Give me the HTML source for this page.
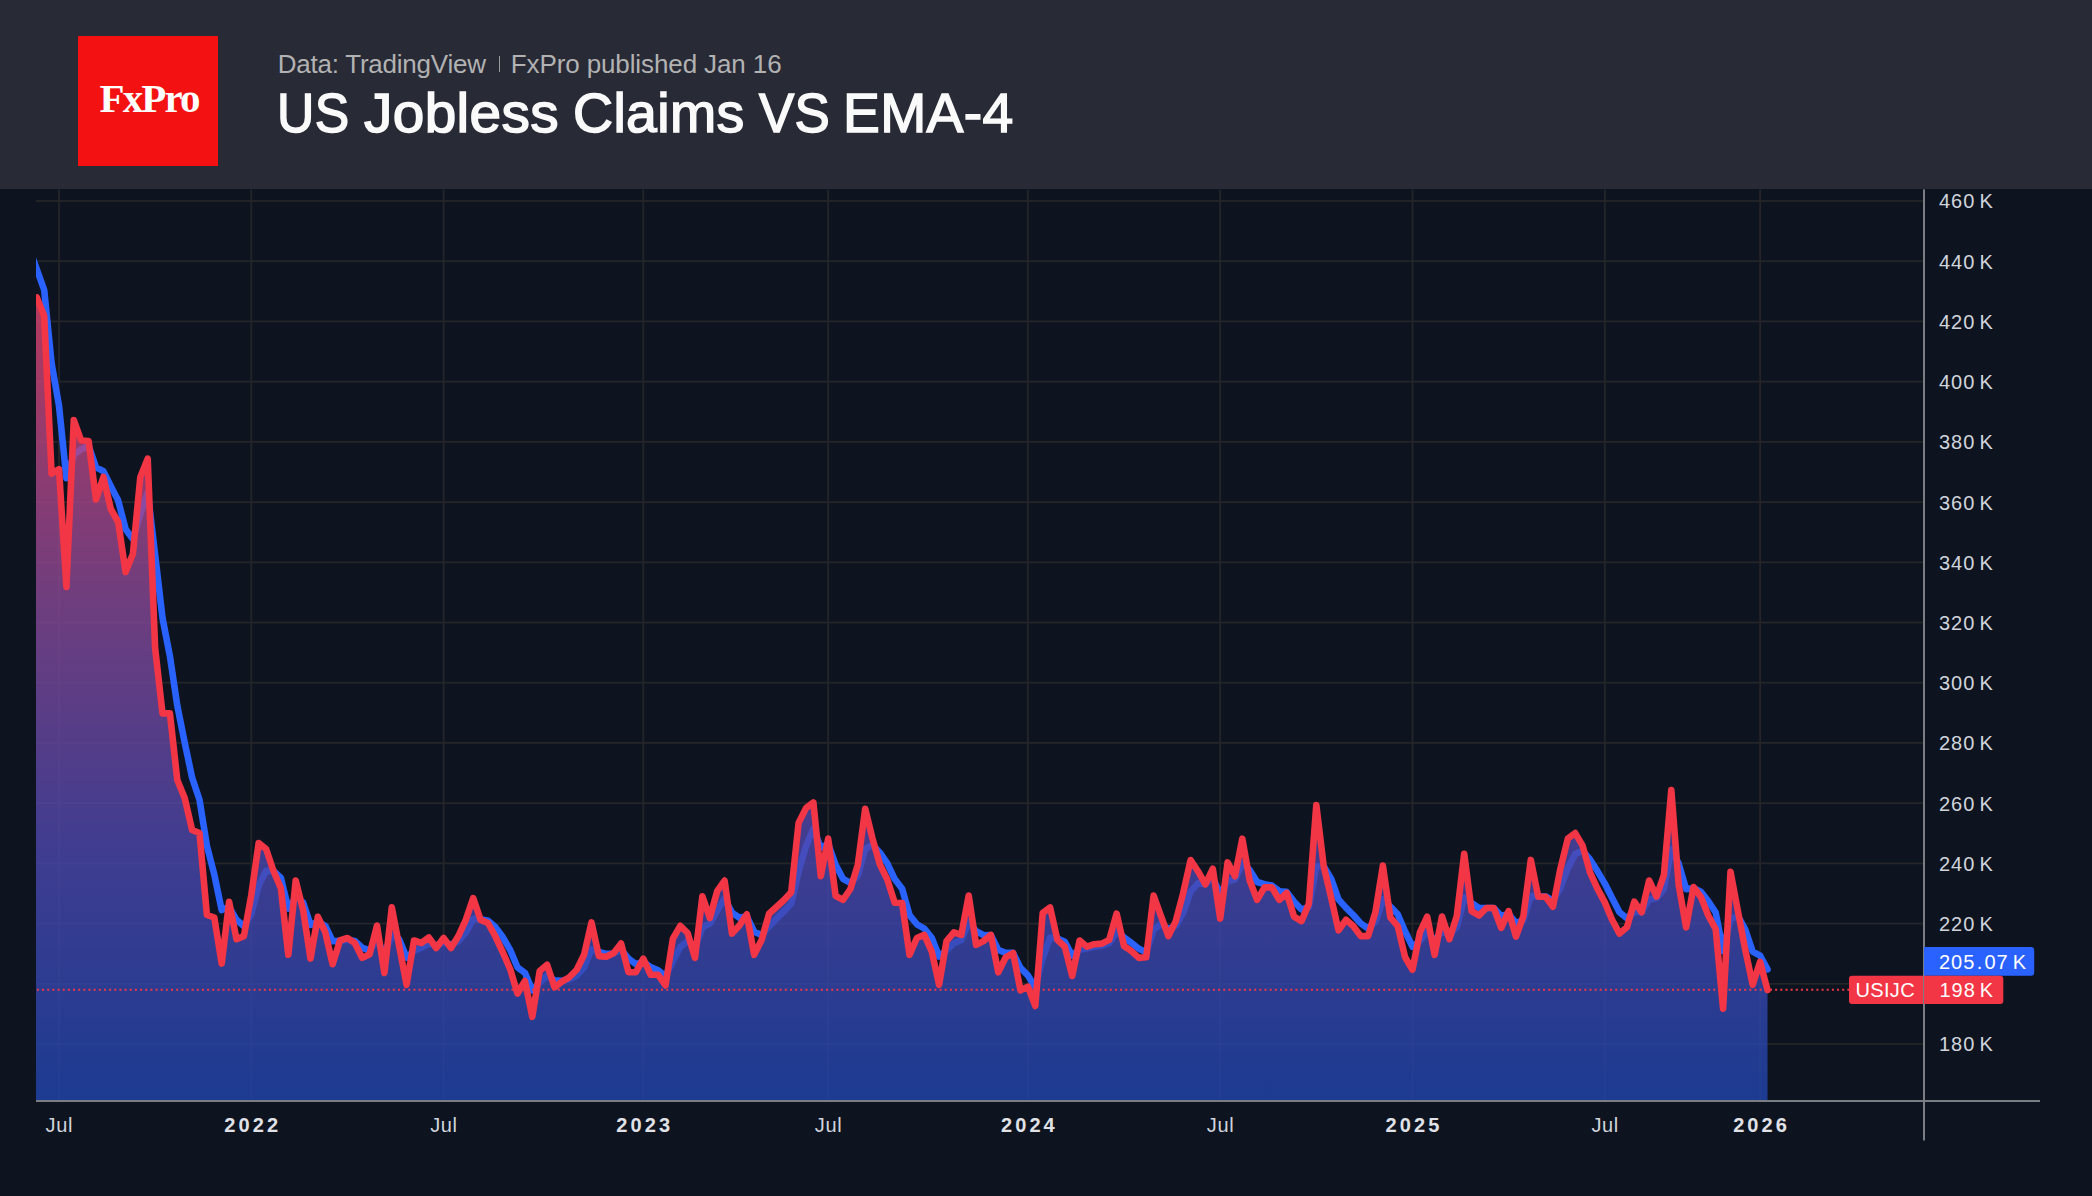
<!DOCTYPE html>
<html><head><meta charset="utf-8"><title>US Jobless Claims VS EMA-4</title>
<style>
html,body{margin:0;padding:0;background:#0d1420;}
body{width:2092px;height:1196px;position:relative;overflow:hidden;font-family:"Liberation Sans",sans-serif;}
#hdr{position:absolute;left:0;top:0;width:2092px;height:189.4px;background:#282a36;}
#logo{position:absolute;left:78px;top:36px;width:140px;height:129.5px;background:#f41112;}
#logo span{position:absolute;left:21.5px;top:42.3px;font-family:"Liberation Serif",serif;font-weight:bold;font-size:41px;line-height:40px;color:#fff;letter-spacing:-1.86px;white-space:nowrap;}
#sub{position:absolute;left:277.7px;top:48.6px;font-size:26px;line-height:30px;color:#b2b2b2;white-space:nowrap;letter-spacing:-0.11px;}
#sub b{font-weight:normal;letter-spacing:-0.23px;}
#sub i{display:inline-block;width:1.2px;height:15.6px;background:#9a9a9a;margin:0 10.8px 0 13.0px;vertical-align:0.8px;}
#ttl{position:absolute;left:277px;top:80.6px;font-size:54.6px;line-height:66px;color:#fafafa;white-space:nowrap;letter-spacing:0.35px;font-weight:normal;-webkit-text-stroke:1.5px #fafafa;}
#ttl span{position:absolute;top:0;transform-origin:0 0;white-space:nowrap;}
svg{position:absolute;left:0;top:0;}
svg text{font-family:"Liberation Sans",sans-serif;}
</style></head><body>
<div id="hdr"><div id="logo"><span>FxPro</span></div>
<div id="sub"><b>Data: TradingView</b><i></i>FxPro published Jan 16</div>
<div id="ttl"><span style="left:0.1px;transform:scaleX(0.946)">US</span> <span style="left:86.5px;transform:scaleX(1.039)">Jobless</span> <span style="left:296.0px;transform:scaleX(1.016)">Claims</span> <span style="left:482.4px;transform:scaleX(0.969)">VS</span> <span style="left:565.9px;transform:scaleX(1.012)">EMA-4</span></div></div>
<svg width="2092" height="1196" viewBox="0 0 2092 1196">
<defs>
<clipPath id="cp"><rect x="36" y="189.4" width="1887" height="911.6"/></clipPath>
<linearGradient id="fg" gradientUnits="userSpaceOnUse" x1="0" y1="262" x2="0" y2="1100">
<stop offset="0" stop-color="rgb(234,66,106)"/>
<stop offset="0.0847" stop-color="rgb(213,67,114)"/>
<stop offset="0.4105" stop-color="rgb(134,72,150)"/>
<stop offset="0.7088" stop-color="rgb(75,71,173)"/>
<stop offset="0.9833" stop-color="rgb(34,69,173)"/>
<stop offset="1" stop-color="rgb(33,69,173)"/>
</linearGradient>
</defs>

<g fill="#242528">
<rect x="58.1" y="189.4" width="1.8" height="910.6"/>
<rect x="250.4" y="189.4" width="1.8" height="910.6"/>
<rect x="442.7" y="189.4" width="1.8" height="910.6"/>
<rect x="642.4" y="189.4" width="1.8" height="910.6"/>
<rect x="827.3" y="189.4" width="1.8" height="910.6"/>
<rect x="1027.0" y="189.4" width="1.8" height="910.6"/>
<rect x="1219.3" y="189.4" width="1.8" height="910.6"/>
<rect x="1411.6" y="189.4" width="1.8" height="910.6"/>
<rect x="1603.9" y="189.4" width="1.8" height="910.6"/>
<rect x="1759.2" y="189.4" width="1.8" height="910.6"/>
<rect x="36" y="200.1" width="1887" height="1.8"/>
<rect x="36" y="260.3" width="1887" height="1.8"/>
<rect x="36" y="320.5" width="1887" height="1.8"/>
<rect x="36" y="380.7" width="1887" height="1.8"/>
<rect x="36" y="441.0" width="1887" height="1.8"/>
<rect x="36" y="501.2" width="1887" height="1.8"/>
<rect x="36" y="561.4" width="1887" height="1.8"/>
<rect x="36" y="621.6" width="1887" height="1.8"/>
<rect x="36" y="681.8" width="1887" height="1.8"/>
<rect x="36" y="742.0" width="1887" height="1.8"/>
<rect x="36" y="802.2" width="1887" height="1.8"/>
<rect x="36" y="862.5" width="1887" height="1.8"/>
<rect x="36" y="922.7" width="1887" height="1.8"/>
<rect x="36" y="982.9" width="1887" height="1.8"/>
<rect x="36" y="1043.1" width="1887" height="1.8"/>
</g>
<g clip-path="url(#cp)">
<path d="M29.4,248.6 L36.8,269.3 L44.2,290.0 L51.6,363.4 L59.0,405.7 L66.4,478.2 L73.8,454.9 L81.2,449.2 L88.6,445.9 L96.0,467.3 L103.4,471.2 L110.8,486.3 L118.2,500.6 L125.6,529.2 L132.9,539.1 L140.3,514.4 L147.7,492.1 L155.1,554.4 L162.5,618.0 L169.9,656.1 L177.3,705.7 L184.7,742.6 L192.1,777.6 L199.5,799.7 L206.9,845.8 L214.3,874.5 L221.7,910.1 L229.1,906.8 L236.5,919.8 L243.9,926.3 L251.3,913.8 L258.7,885.5 L266.1,870.9 L273.5,870.9 L280.9,877.9 L288.3,908.6 L295.7,897.4 L303.1,902.5 L310.5,924.9 L317.8,921.7 L325.2,925.8 L332.6,941.2 L340.0,940.9 L347.4,939.7 L354.8,941.0 L362.2,947.8 L369.6,950.4 L377.0,940.4 L384.4,953.4 L391.8,935.0 L399.2,939.4 L406.6,957.6 L414.0,950.8 L421.4,947.7 L428.8,943.6 L436.2,945.3 L443.6,942.4 L451.0,944.6 L458.4,941.2 L465.8,932.7 L473.2,918.9 L480.6,919.3 L488.0,920.8 L495.4,927.1 L502.7,937.0 L510.1,949.8 L517.5,967.3 L524.9,972.8 L532.3,990.4 L539.7,982.6 L547.1,975.5 L554.5,980.2 L561.9,980.8 L569.3,979.4 L576.7,975.5 L584.1,967.2 L591.5,949.3 L598.9,952.0 L606.3,953.9 L613.7,953.5 L621.1,949.6 L628.5,958.7 L635.9,964.1 L643.3,961.9 L650.7,967.1 L658.1,970.2 L665.5,976.3 L672.9,961.2 L680.3,947.0 L687.6,941.4 L695.0,948.0 L702.4,927.3 L709.8,923.6 L717.2,910.6 L724.6,898.6 L732.0,912.6 L739.4,917.8 L746.8,916.4 L754.2,931.7 L761.6,935.0 L769.0,926.5 L776.4,918.7 L783.8,911.3 L791.2,903.7 L798.6,871.4 L806.0,846.1 L813.4,828.7 L820.8,847.6 L828.2,844.0 L835.6,864.7 L843.0,878.8 L850.4,882.9 L857.8,875.7 L865.2,848.9 L872.5,844.8 L879.9,852.7 L887.3,863.4 L894.7,879.1 L902.1,888.7 L909.5,915.1 L916.9,924.3 L924.3,928.5 L931.7,937.7 L939.1,956.5 L946.5,950.4 L953.9,943.2 L961.3,939.9 L968.7,922.1 L976.1,931.2 L983.5,935.2 L990.9,935.1 L998.3,950.0 L1005.7,952.9 L1013.1,952.9 L1020.5,967.9 L1027.9,975.4 L1035.3,987.6 L1042.7,957.8 L1050.1,937.6 L1057.4,938.5 L1064.8,941.8 L1072.2,955.5 L1079.6,949.5 L1087.0,948.4 L1094.4,946.7 L1101.8,945.5 L1109.2,943.2 L1116.6,931.4 L1124.0,937.3 L1131.4,942.8 L1138.8,948.8 L1146.2,952.2 L1153.6,929.6 L1161.0,924.2 L1168.4,929.0 L1175.8,925.8 L1183.2,912.7 L1190.6,891.6 L1198.0,883.4 L1205.4,883.8 L1212.8,877.8 L1220.2,894.1 L1227.6,881.4 L1235.0,879.3 L1242.3,863.1 L1249.7,870.0 L1257.1,882.0 L1264.5,884.2 L1271.9,885.5 L1279.3,891.2 L1286.7,891.9 L1294.1,901.8 L1301.5,909.5 L1308.9,907.2 L1316.3,866.3 L1323.7,866.3 L1331.1,878.7 L1338.5,899.4 L1345.9,907.6 L1353.3,915.0 L1360.7,923.4 L1368.1,928.5 L1375.5,921.8 L1382.9,899.3 L1390.3,906.5 L1397.7,914.3 L1405.1,931.5 L1412.5,946.8 L1419.9,941.0 L1427.2,931.3 L1434.6,940.7 L1442.0,931.0 L1449.4,934.3 L1456.8,927.0 L1464.2,897.7 L1471.6,903.1 L1479.0,908.0 L1486.4,908.0 L1493.8,908.0 L1501.2,916.0 L1508.6,914.0 L1516.0,923.1 L1523.4,920.3 L1530.8,896.1 L1538.2,896.4 L1545.6,896.5 L1553.0,900.6 L1560.4,887.8 L1567.8,868.2 L1575.2,854.1 L1582.6,850.7 L1590.0,859.4 L1597.4,871.1 L1604.8,883.6 L1612.1,898.1 L1619.5,912.3 L1626.9,918.3 L1634.3,911.7 L1641.7,911.9 L1649.1,899.3 L1656.5,898.2 L1663.9,888.9 L1671.3,849.4 L1678.7,863.6 L1686.1,889.1 L1693.5,888.3 L1700.9,891.8 L1708.3,901.3 L1715.7,912.5 L1723.1,950.9 L1730.5,919.2 L1737.9,915.9 L1745.3,929.6 L1752.7,951.7 L1760.1,955.7 L1767.5,969.4" fill="none" stroke="#2962ff" stroke-width="6.6" stroke-linejoin="round" stroke-linecap="round"/>
<path d="M35,297.5 L36.8,297.5 L44.2,316.0 L51.6,473.6 L59.0,469.2 L66.4,586.9 L73.8,420.0 L81.2,440.5 L88.6,441.0 L96.0,499.5 L103.4,477.0 L110.8,509.0 L118.2,522.0 L125.6,572.0 L132.9,554.0 L140.3,477.3 L147.7,458.6 L155.1,647.8 L162.5,713.4 L169.9,713.4 L177.3,780.0 L184.7,798.0 L192.1,830.0 L199.5,833.0 L206.9,914.9 L214.3,917.5 L221.7,963.6 L229.1,901.8 L236.5,939.2 L243.9,936.1 L251.3,895.0 L258.7,843.0 L266.1,849.0 L273.5,871.0 L280.9,888.3 L288.3,954.8 L295.7,880.6 L303.1,910.0 L310.5,958.6 L317.8,916.8 L325.2,932.0 L332.6,964.2 L340.0,940.5 L347.4,938.0 L354.8,943.0 L362.2,957.9 L369.6,954.2 L377.0,925.5 L384.4,972.9 L391.8,907.4 L399.2,946.1 L406.6,984.8 L414.0,940.5 L421.4,943.0 L428.8,937.4 L436.2,948.0 L443.6,938.0 L451.0,948.0 L458.4,936.1 L465.8,919.9 L473.2,898.1 L480.6,919.9 L488.0,923.0 L495.4,936.5 L502.7,952.0 L510.1,969.0 L517.5,993.5 L524.9,981.0 L532.3,1016.8 L539.7,971.0 L547.1,964.8 L554.5,987.3 L561.9,981.6 L569.3,977.3 L576.7,969.8 L584.1,954.8 L591.5,922.4 L598.9,956.1 L606.3,956.7 L613.7,953.0 L621.1,943.6 L628.5,972.3 L635.9,972.3 L643.3,958.6 L650.7,974.8 L658.1,974.8 L665.5,985.4 L672.9,938.6 L680.3,925.8 L687.6,933.0 L695.0,957.9 L702.4,896.2 L709.8,918.0 L717.2,891.2 L724.6,880.6 L732.0,933.6 L739.4,925.5 L746.8,914.3 L754.2,954.8 L761.6,940.0 L769.0,913.8 L776.4,907.0 L783.8,900.2 L791.2,892.3 L798.6,823.0 L806.0,808.1 L813.4,802.5 L820.8,876.1 L828.2,838.6 L835.6,895.8 L843.0,899.8 L850.4,889.0 L857.8,864.9 L865.2,808.7 L872.5,838.6 L879.9,864.5 L887.3,879.5 L894.7,902.7 L902.1,903.0 L909.5,954.8 L916.9,938.0 L924.3,934.9 L931.7,951.4 L939.1,984.8 L946.5,941.1 L953.9,932.4 L961.3,934.9 L968.7,895.5 L976.1,944.8 L983.5,941.1 L990.9,934.9 L998.3,972.3 L1005.7,957.3 L1013.1,953.0 L1020.5,990.4 L1027.9,986.6 L1035.3,1006.0 L1042.7,913.0 L1050.1,907.4 L1057.4,939.9 L1064.8,946.7 L1072.2,976.0 L1079.6,940.5 L1087.0,946.7 L1094.4,944.2 L1101.8,943.6 L1109.2,939.9 L1116.6,913.6 L1124.0,946.1 L1131.4,951.1 L1138.8,957.9 L1146.2,957.3 L1153.6,895.6 L1161.0,916.1 L1168.4,936.1 L1175.8,921.1 L1183.2,893.0 L1190.6,860.0 L1198.0,871.2 L1205.4,884.3 L1212.8,868.7 L1220.2,918.6 L1227.6,862.4 L1235.0,876.2 L1242.3,838.7 L1249.7,880.5 L1257.1,899.9 L1264.5,887.4 L1271.9,887.4 L1279.3,899.9 L1286.7,893.0 L1294.1,916.7 L1301.5,921.1 L1308.9,903.6 L1316.3,805.0 L1323.7,866.2 L1331.1,897.4 L1338.5,930.4 L1345.9,919.8 L1353.3,926.1 L1360.7,936.1 L1368.1,936.1 L1375.5,911.7 L1382.9,865.6 L1390.3,917.3 L1397.7,926.1 L1405.1,957.3 L1412.5,969.7 L1419.9,932.3 L1427.2,916.7 L1434.6,954.8 L1442.0,916.5 L1449.4,939.2 L1456.8,916.1 L1464.2,853.7 L1471.6,911.1 L1479.0,915.5 L1486.4,908.0 L1493.8,908.0 L1501.2,927.9 L1508.6,911.1 L1516.0,936.7 L1523.4,916.1 L1530.8,859.9 L1538.2,896.7 L1545.6,896.7 L1553.0,906.7 L1560.4,868.7 L1567.8,838.7 L1575.2,833.1 L1582.6,845.6 L1590.0,872.4 L1597.4,888.6 L1604.8,902.4 L1612.1,919.8 L1619.5,933.6 L1626.9,927.3 L1634.3,901.7 L1641.7,912.3 L1649.1,880.5 L1656.5,896.5 L1663.9,875.0 L1671.3,790.0 L1678.7,885.0 L1686.1,927.4 L1693.5,887.0 L1700.9,897.0 L1708.3,915.5 L1715.7,929.3 L1723.1,1008.6 L1730.5,871.7 L1737.9,911.0 L1745.3,950.0 L1752.7,984.8 L1760.1,961.8 L1767.5,990.0 L1767.5,1100 L35,1100 Z" fill="url(#fg)" fill-opacity="0.8"/>
</g>
<line x1="1849.36" y1="989.7" x2="36" y2="989.7" stroke="#f23645" stroke-width="2" stroke-dasharray="2 3.158"/>
<g clip-path="url(#cp)">
<path d="M36.8,297.5 L44.2,316.0 L51.6,473.6 L59.0,469.2 L66.4,586.9 L73.8,420.0 L81.2,440.5 L88.6,441.0 L96.0,499.5 L103.4,477.0 L110.8,509.0 L118.2,522.0 L125.6,572.0 L132.9,554.0 L140.3,477.3 L147.7,458.6 L155.1,647.8 L162.5,713.4 L169.9,713.4 L177.3,780.0 L184.7,798.0 L192.1,830.0 L199.5,833.0 L206.9,914.9 L214.3,917.5 L221.7,963.6 L229.1,901.8 L236.5,939.2 L243.9,936.1 L251.3,895.0 L258.7,843.0 L266.1,849.0 L273.5,871.0 L280.9,888.3 L288.3,954.8 L295.7,880.6 L303.1,910.0 L310.5,958.6 L317.8,916.8 L325.2,932.0 L332.6,964.2 L340.0,940.5 L347.4,938.0 L354.8,943.0 L362.2,957.9 L369.6,954.2 L377.0,925.5 L384.4,972.9 L391.8,907.4 L399.2,946.1 L406.6,984.8 L414.0,940.5 L421.4,943.0 L428.8,937.4 L436.2,948.0 L443.6,938.0 L451.0,948.0 L458.4,936.1 L465.8,919.9 L473.2,898.1 L480.6,919.9 L488.0,923.0 L495.4,936.5 L502.7,952.0 L510.1,969.0 L517.5,993.5 L524.9,981.0 L532.3,1016.8 L539.7,971.0 L547.1,964.8 L554.5,987.3 L561.9,981.6 L569.3,977.3 L576.7,969.8 L584.1,954.8 L591.5,922.4 L598.9,956.1 L606.3,956.7 L613.7,953.0 L621.1,943.6 L628.5,972.3 L635.9,972.3 L643.3,958.6 L650.7,974.8 L658.1,974.8 L665.5,985.4 L672.9,938.6 L680.3,925.8 L687.6,933.0 L695.0,957.9 L702.4,896.2 L709.8,918.0 L717.2,891.2 L724.6,880.6 L732.0,933.6 L739.4,925.5 L746.8,914.3 L754.2,954.8 L761.6,940.0 L769.0,913.8 L776.4,907.0 L783.8,900.2 L791.2,892.3 L798.6,823.0 L806.0,808.1 L813.4,802.5 L820.8,876.1 L828.2,838.6 L835.6,895.8 L843.0,899.8 L850.4,889.0 L857.8,864.9 L865.2,808.7 L872.5,838.6 L879.9,864.5 L887.3,879.5 L894.7,902.7 L902.1,903.0 L909.5,954.8 L916.9,938.0 L924.3,934.9 L931.7,951.4 L939.1,984.8 L946.5,941.1 L953.9,932.4 L961.3,934.9 L968.7,895.5 L976.1,944.8 L983.5,941.1 L990.9,934.9 L998.3,972.3 L1005.7,957.3 L1013.1,953.0 L1020.5,990.4 L1027.9,986.6 L1035.3,1006.0 L1042.7,913.0 L1050.1,907.4 L1057.4,939.9 L1064.8,946.7 L1072.2,976.0 L1079.6,940.5 L1087.0,946.7 L1094.4,944.2 L1101.8,943.6 L1109.2,939.9 L1116.6,913.6 L1124.0,946.1 L1131.4,951.1 L1138.8,957.9 L1146.2,957.3 L1153.6,895.6 L1161.0,916.1 L1168.4,936.1 L1175.8,921.1 L1183.2,893.0 L1190.6,860.0 L1198.0,871.2 L1205.4,884.3 L1212.8,868.7 L1220.2,918.6 L1227.6,862.4 L1235.0,876.2 L1242.3,838.7 L1249.7,880.5 L1257.1,899.9 L1264.5,887.4 L1271.9,887.4 L1279.3,899.9 L1286.7,893.0 L1294.1,916.7 L1301.5,921.1 L1308.9,903.6 L1316.3,805.0 L1323.7,866.2 L1331.1,897.4 L1338.5,930.4 L1345.9,919.8 L1353.3,926.1 L1360.7,936.1 L1368.1,936.1 L1375.5,911.7 L1382.9,865.6 L1390.3,917.3 L1397.7,926.1 L1405.1,957.3 L1412.5,969.7 L1419.9,932.3 L1427.2,916.7 L1434.6,954.8 L1442.0,916.5 L1449.4,939.2 L1456.8,916.1 L1464.2,853.7 L1471.6,911.1 L1479.0,915.5 L1486.4,908.0 L1493.8,908.0 L1501.2,927.9 L1508.6,911.1 L1516.0,936.7 L1523.4,916.1 L1530.8,859.9 L1538.2,896.7 L1545.6,896.7 L1553.0,906.7 L1560.4,868.7 L1567.8,838.7 L1575.2,833.1 L1582.6,845.6 L1590.0,872.4 L1597.4,888.6 L1604.8,902.4 L1612.1,919.8 L1619.5,933.6 L1626.9,927.3 L1634.3,901.7 L1641.7,912.3 L1649.1,880.5 L1656.5,896.5 L1663.9,875.0 L1671.3,790.0 L1678.7,885.0 L1686.1,927.4 L1693.5,887.0 L1700.9,897.0 L1708.3,915.5 L1715.7,929.3 L1723.1,1008.6 L1730.5,871.7 L1737.9,911.0 L1745.3,950.0 L1752.7,984.8 L1760.1,961.8 L1767.5,990.0" fill="none" stroke="#f23645" stroke-width="6.6" stroke-linejoin="round" stroke-linecap="round"/>
</g>
<rect x="36" y="1100" width="2004" height="2" fill="#7b7d84"/>
<rect x="1923" y="189.4" width="2" height="951.1" fill="#7b7d84"/>
<g fill="#d1d4dc" font-size="20px" letter-spacing="1.0">
<text x="1939" y="208.4">460 <tspan dx="-2.56">K</tspan></text>
<text x="1939" y="268.6">440 <tspan dx="-2.56">K</tspan></text>
<text x="1939" y="328.8">420 <tspan dx="-2.56">K</tspan></text>
<text x="1939" y="389.0">400 <tspan dx="-2.56">K</tspan></text>
<text x="1939" y="449.3">380 <tspan dx="-2.56">K</tspan></text>
<text x="1939" y="509.5">360 <tspan dx="-2.56">K</tspan></text>
<text x="1939" y="569.7">340 <tspan dx="-2.56">K</tspan></text>
<text x="1939" y="629.9">320 <tspan dx="-2.56">K</tspan></text>
<text x="1939" y="690.1">300 <tspan dx="-2.56">K</tspan></text>
<text x="1939" y="750.3">280 <tspan dx="-2.56">K</tspan></text>
<text x="1939" y="810.5">260 <tspan dx="-2.56">K</tspan></text>
<text x="1939" y="870.8">240 <tspan dx="-2.56">K</tspan></text>
<text x="1939" y="931.0">220 <tspan dx="-2.56">K</tspan></text>
<text x="1939" y="1051.4">180 <tspan dx="-2.56">K</tspan></text>
</g>
<text x="59.3" y="1132.2" text-anchor="middle" fill="#d1d4dc" font-size="20px" letter-spacing="0.6">Jul</text>
<text x="252.8" y="1132.2" text-anchor="middle" fill="#e0e2e7" font-size="20px" font-weight="bold" letter-spacing="3.1">2022</text>
<text x="443.9" y="1132.2" text-anchor="middle" fill="#d1d4dc" font-size="20px" letter-spacing="0.6">Jul</text>
<text x="644.8" y="1132.2" text-anchor="middle" fill="#e0e2e7" font-size="20px" font-weight="bold" letter-spacing="3.1">2023</text>
<text x="828.5" y="1132.2" text-anchor="middle" fill="#d1d4dc" font-size="20px" letter-spacing="0.6">Jul</text>
<text x="1029.4" y="1132.2" text-anchor="middle" fill="#e0e2e7" font-size="20px" font-weight="bold" letter-spacing="3.1">2024</text>
<text x="1220.5" y="1132.2" text-anchor="middle" fill="#d1d4dc" font-size="20px" letter-spacing="0.6">Jul</text>
<text x="1414.0" y="1132.2" text-anchor="middle" fill="#e0e2e7" font-size="20px" font-weight="bold" letter-spacing="3.1">2025</text>
<text x="1605.1" y="1132.2" text-anchor="middle" fill="#d1d4dc" font-size="20px" letter-spacing="0.6">Jul</text>
<text x="1761.6" y="1132.2" text-anchor="middle" fill="#e0e2e7" font-size="20px" font-weight="bold" letter-spacing="3.1">2026</text>
<path d="M1924,947 H2031.2 a3,3 0 0 1 3,3 V972.7 a3,3 0 0 1 -3,3 H1924 Z" fill="#2962ff"/>
<text x="1939" y="968.8" fill="#fff" font-size="20px" letter-spacing="0.95">205<tspan dx="1.4">.</tspan><tspan dx="1.4">07</tspan> <tspan dx="-2.51">K</tspan></text>
<path d="M1924,975.7 H2000.3 a3,3 0 0 1 3,3 V1001 a3,3 0 0 1 -3,3 H1924 Z" fill="#f23645"/>
<text x="1939.6" y="996.9" fill="#fff" font-size="20px" letter-spacing="0.9">198 <tspan dx="-2.46">K</tspan></text>
<path d="M1923,975.7 H1852 a3,3 0 0 0 -3,3 V1001 a3,3 0 0 0 3,3 H1923 Z" fill="#f23645"/>
<text x="1855.6" y="996.9" fill="#fff" font-size="20px" letter-spacing="0.3">USIJC</text>
</svg></body></html>
